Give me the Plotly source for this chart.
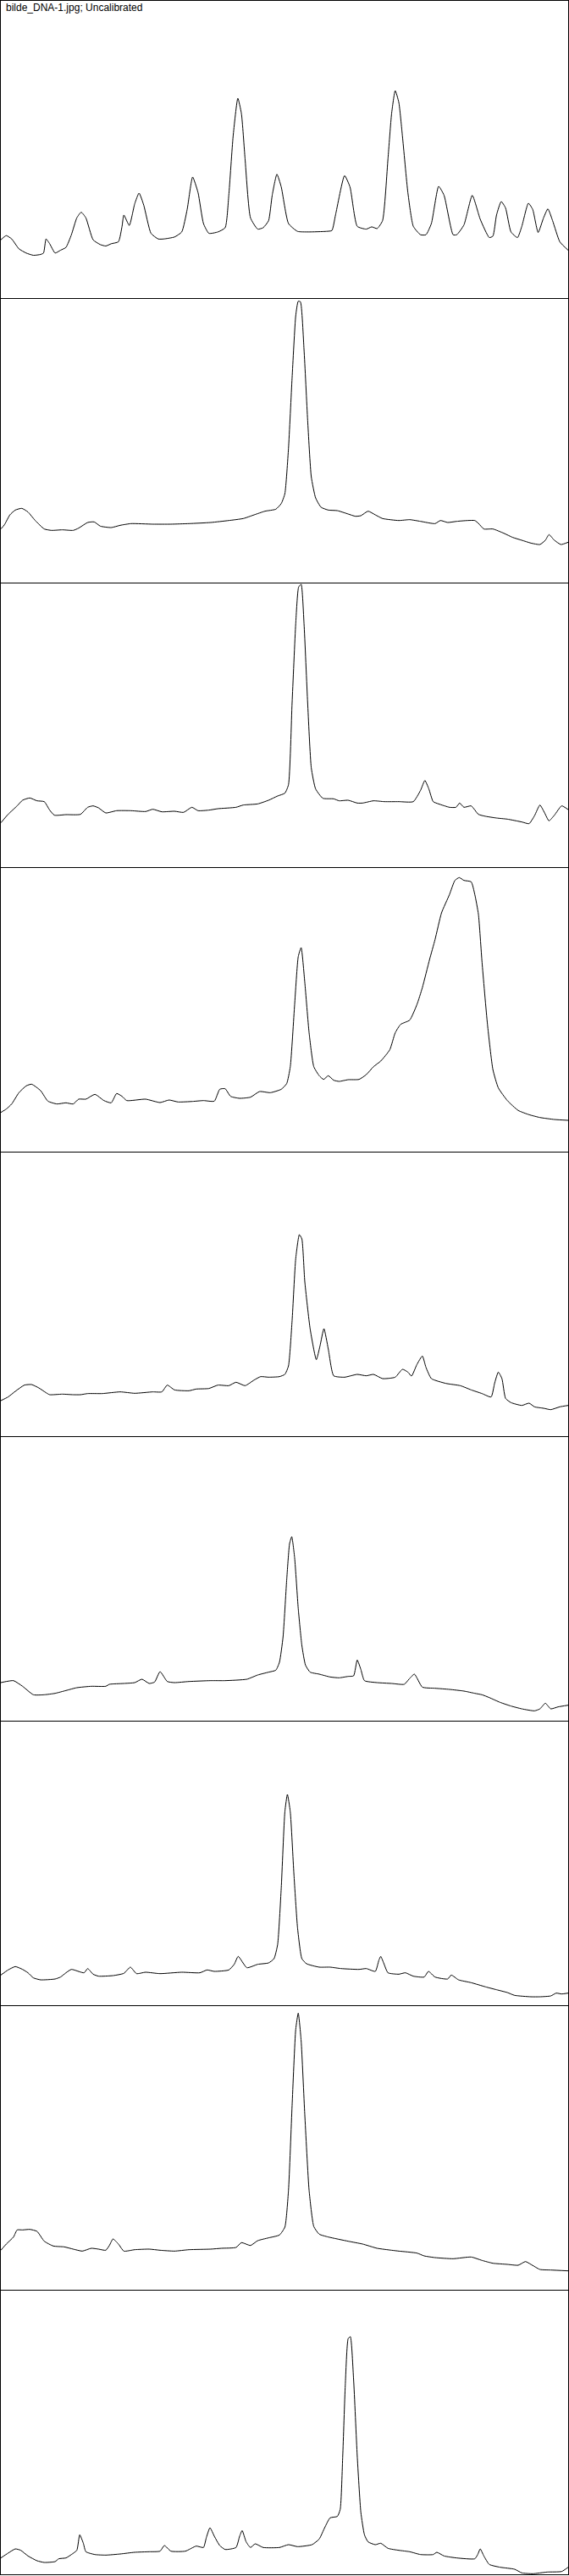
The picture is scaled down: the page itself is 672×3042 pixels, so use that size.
import plotly.graph_objects as go

title_text = "bilde_DNA-1.jpg; Uncalibrated"

lane1_x = [0, 15, 30, 50, 70, 90, 110, 118, 125, 135, 150, 165, 180, 195, 210, 222, 235, 255, 275, 290, 305, 325, 335, 340, 355, 370, 382, 395, 415, 435, 450, 480, 500, 515, 530, 545, 560, 575, 600, 620, 630, 642, 655, 665, 675, 690, 710, 725, 740, 750, 763, 775, 795, 820, 850, 900, 915, 925, 950, 965, 985, 1010, 1025, 1040, 1055, 1070, 1080, 1090, 1100, 1110, 1125, 1140, 1160, 1175, 1190, 1210, 1225, 1250, 1260, 1280, 1303, 1325, 1350, 1360, 1370, 1383, 1395, 1410, 1428, 1440, 1458, 1470, 1485, 1500, 1512, 1525, 1545, 1568]
lane1_y = [207, 222, 210, 175, 160, 152, 155, 160, 210, 193, 160, 170, 180, 225, 285, 305, 285, 207, 190, 185, 193, 200, 255, 295, 258, 335, 373, 330, 230, 210, 210, 217, 235, 315, 430, 375, 265, 230, 235, 250, 365, 575, 710, 655, 495, 285, 245, 250, 275, 365, 440, 395, 265, 237, 235, 237, 240, 295, 435, 395, 255, 245, 253, 247, 275, 495, 655, 737, 695, 575, 375, 255, 225, 225, 265, 397, 365, 225, 225, 260, 365, 280, 215, 220, 295, 343, 320, 235, 215, 255, 337, 315, 233, 285, 317, 275, 200, 170]

lane2_x = [0, 10, 25, 40, 58, 75, 95, 120, 140, 170, 200, 215, 240, 258, 275, 305, 330, 360, 420, 470, 520, 580, 630, 670, 700, 730, 760, 775, 785, 795, 805, 815, 822, 828, 838, 848, 858, 870, 885, 905, 930, 960, 980, 995, 1015, 1035, 1055, 1100, 1130, 1160, 1200, 1215, 1235, 1260, 1290, 1310, 1320, 1335, 1360, 1390, 1415, 1440, 1465, 1490, 1505, 1515, 1530, 1548, 1568]
lane2_y = [190, 205, 240, 257, 263, 250, 220, 190, 185, 187, 185, 193, 213, 215, 200, 195, 203, 209, 207, 207, 209, 213, 220, 227, 240, 253, 260, 280, 315, 475, 725, 945, 997, 995, 825, 575, 375, 300, 267, 257, 255, 243, 235, 237, 253, 240, 227, 220, 223, 217, 209, 220, 213, 217, 220, 220, 210, 190, 190, 175, 160, 150, 140, 135, 150, 170, 150, 135, 143]

lane3_x = [0, 20, 45, 60, 80, 100, 120, 135, 148, 180, 220, 240, 255, 270, 290, 320, 360, 400, 420, 445, 480, 505, 528, 545, 575, 600, 650, 670, 710, 740, 765, 785, 795, 805, 815, 823, 830, 838, 848, 858, 870, 890, 920, 935, 960, 985, 1000, 1030, 1060, 1100, 1140, 1160, 1172, 1183, 1195, 1210, 1240, 1258, 1268, 1280, 1300, 1320, 1340, 1370, 1400, 1440, 1460, 1475, 1490, 1503, 1515, 1530, 1550, 1568]
lane3_y = [157, 187, 217, 237, 245, 235, 232, 202, 184, 186, 187, 212, 217, 210, 192, 200, 200, 197, 205, 196, 198, 194, 212, 200, 202, 207, 212, 220, 224, 237, 252, 262, 292, 582, 862, 992, 1002, 862, 582, 352, 277, 244, 242, 235, 237, 227, 227, 235, 232, 232, 232, 272, 307, 277, 232, 224, 212, 212, 227, 212, 217, 187, 180, 174, 170, 160, 154, 182, 220, 192, 164, 184, 217, 204]

lane4_x = [0, 15, 30, 50, 70, 85, 110, 130, 155, 180, 200, 215, 235, 260, 285, 305, 320, 335, 348, 400, 440, 465, 490, 530, 560, 590, 605, 620, 635, 660, 690, 715, 745, 775, 790, 800, 812, 822, 830, 840, 852, 865, 880, 892, 905, 920, 935, 960, 990, 1010, 1030, 1050, 1075, 1090, 1105, 1130, 1150, 1165, 1185, 1200, 1218, 1240, 1255, 1267, 1280, 1300, 1310, 1320, 1330, 1345, 1360, 1375, 1400, 1430, 1460, 1490, 1530, 1568]
lane4_y = [139, 151, 169, 209, 233, 239, 216, 179, 169, 173, 169, 186, 186, 203, 181, 173, 206, 196, 181, 186, 174, 183, 176, 178, 181, 179, 221, 223, 196, 189, 193, 213, 209, 221, 241, 301, 521, 691, 723, 601, 421, 301, 269, 256, 269, 253, 249, 255, 256, 273, 301, 321, 361, 421, 451, 466, 521, 581, 681, 751, 846, 911, 961, 971, 961, 956, 911, 841, 671, 451, 291, 226, 181, 146, 131, 121, 114, 111]

lane5_x = [0, 20, 40, 65, 85, 105, 125, 135, 170, 200, 220, 240, 280, 330, 370, 420, 445, 460, 480, 520, 540, 575, 600, 630, 650, 675, 700, 718, 740, 770, 785, 795, 805, 815, 825, 832, 840, 855, 872, 882, 893, 905, 920, 950, 985, 1010, 1030, 1055, 1090, 1110, 1125, 1135, 1150, 1165, 1175, 1190, 1230, 1270, 1300, 1330, 1355, 1365, 1375, 1385, 1395, 1410, 1440, 1460, 1475, 1500, 1520, 1545, 1568]
lane5_y = [126, 139, 159, 181, 183, 171, 154, 147, 149, 147, 147, 151, 151, 157, 152, 157, 157, 181, 164, 161, 167, 169, 181, 179, 191, 179, 199, 211, 209, 211, 219, 249, 409, 629, 714, 699, 549, 379, 271, 319, 381, 309, 214, 209, 219, 214, 219, 204, 209, 237, 227, 213, 254, 284, 244, 204, 187, 179, 164, 151, 139, 189, 227, 204, 134, 119, 109, 117, 104, 99, 94, 104, 109]

lane6_x = [0, 15, 35, 60, 90, 120, 150, 180, 210, 250, 290, 300, 340, 370, 390, 410, 425, 440, 460, 480, 520, 580, 620, 680, 710, 740, 760, 770, 780, 790, 798, 804, 812, 822, 832, 842, 855, 880, 910, 935, 960, 975, 985, 995, 1005, 1040, 1080, 1115, 1128, 1143, 1165, 1200, 1240, 1280, 1310, 1330, 1350, 1380, 1410, 1440, 1475, 1490, 1505, 1520, 1540, 1568]
lane6_y = [135, 139, 142, 122, 92, 92, 97, 107, 117, 122, 122, 129, 132, 135, 147, 132, 137, 174, 139, 135, 139, 142, 142, 147, 162, 172, 179, 207, 297, 497, 627, 652, 577, 397, 267, 197, 172, 165, 155, 152, 157, 159, 215, 182, 142, 135, 132, 129, 147, 165, 119, 115, 111, 105, 97, 92, 82, 65, 52, 42, 35, 42, 62, 42, 49, 55]

lane7_x = [0, 20, 40, 60, 75, 90, 110, 150, 165, 180, 195, 230, 240, 255, 270, 310, 340, 358, 375, 400, 440, 500, 550, 570, 590, 630, 645, 656, 680, 710, 740, 755, 765, 775, 785, 792, 800, 810, 820, 832, 845, 880, 910, 940, 990, 1010, 1035, 1045, 1050, 1058, 1070, 1100, 1118, 1140, 1170, 1182, 1200, 1235, 1245, 1265, 1300, 1340, 1370, 1400, 1420, 1465, 1490, 1520, 1535, 1550, 1568]
lane7_y = [107, 125, 137, 127, 115, 97, 90, 93, 100, 115, 127, 115, 130, 110, 103, 105, 113, 135, 112, 117, 112, 117, 115, 125, 120, 125, 145, 173, 133, 145, 150, 165, 215, 415, 685, 747, 685, 465, 275, 165, 147, 135, 135, 130, 127, 130, 120, 160, 173, 150, 115, 110, 115, 103, 100, 120, 100, 93, 107, 90, 80, 65, 55, 45, 35, 30, 30, 33, 43, 40, 43]

lane8_x = [0, 15, 35, 45, 60, 80, 100, 120, 145, 175, 200, 225, 250, 270, 290, 300, 310, 325, 340, 370, 410, 440, 480, 520, 580, 610, 650, 665, 690, 710, 740, 770, 785, 795, 805, 815, 822, 830, 840, 852, 865, 880, 905, 960, 1000, 1040, 1080, 1100, 1150, 1170, 1200, 1250, 1300, 1330, 1360, 1400, 1430, 1450, 1465, 1490, 1520, 1568]
lane8_y = [140, 162, 187, 212, 212, 214, 207, 172, 155, 152, 144, 137, 147, 144, 140, 157, 180, 162, 137, 142, 144, 140, 137, 142, 144, 147, 150, 167, 157, 174, 184, 194, 222, 352, 652, 922, 980, 882, 622, 352, 224, 197, 187, 172, 162, 147, 140, 137, 130, 120, 114, 110, 116, 104, 94, 90, 87, 100, 90, 72, 70, 67]

lane9_x = [0, 20, 40, 55, 75, 100, 120, 150, 160, 180, 195, 210, 218, 228, 235, 260, 290, 330, 370, 410, 440, 452, 470, 510, 540, 560, 568, 578, 590, 605, 620, 650, 660, 667, 678, 690, 703, 725, 770, 795, 820, 860, 880, 895, 910, 930, 938, 945, 952, 960, 966, 975, 985, 995, 1005, 1015, 1035, 1050, 1070, 1100, 1130, 1160, 1195, 1205, 1225, 1260, 1310, 1318, 1325, 1335, 1350, 1380, 1420, 1440, 1470, 1510, 1550, 1568]
lane9_y = [58, 75, 90, 85, 65, 48, 42, 45, 55, 58, 70, 85, 140, 110, 80, 70, 68, 72, 78, 80, 82, 102, 82, 82, 100, 95, 130, 165, 135, 102, 88, 95, 135, 155, 115, 95, 108, 95, 95, 105, 98, 105, 125, 165, 200, 205, 230, 420, 670, 835, 842, 690, 420, 220, 140, 115, 105, 110, 92, 85, 80, 70, 70, 78, 65, 58, 55, 70, 90, 65, 35, 25, 18, 5, 2, 8, 10, 25]

lanes = [
    (lane1_x, lane1_y), (lane2_x, lane2_y), (lane3_x, lane3_y),
    (lane4_x, lane4_y), (lane5_x, lane5_y), (lane6_x, lane6_y),
    (lane7_x, lane7_y), (lane8_x, lane8_y), (lane9_x, lane9_y),
]

W, H = 672, 3042
ml, mr, mt, mb = 1, 1, 1, 2
plot_h = H - mt - mb
bounds = [0, 352, 688, 1024, 1360, 1696, 2032, 2368, 2704, 3040]
x_max = 1568

fig = go.Figure()
layout = dict(
    width=W, height=H,
    margin=dict(l=ml, r=mr, t=mt, b=mb, pad=0),
    paper_bgcolor="white", plot_bgcolor="white",
    showlegend=False, hovermode=False,
)
for i, (xs, ys) in enumerate(lanes):
    n = "" if i == 0 else str(i + 1)
    top_px, bot_px = bounds[i], bounds[i + 1]
    d0 = (H - mb - bot_px) / plot_h
    d1 = min(1.0, (H - mb - top_px) / plot_h)
    y_top = (bot_px - top_px) * 3
    fig.add_trace(go.Scatter(
        x=xs, y=ys, mode="lines",
        line=dict(color="black", width=1, shape="spline", smoothing=0.5),
        xaxis="x" + n, yaxis="y" + n,
    ))
    layout["xaxis" + n] = dict(
        domain=[0, 1], range=[0, x_max], anchor="y" + n,
        showgrid=False, zeroline=False, showticklabels=False, ticks="",
        showline=True, linecolor="black", linewidth=1,
        mirror=(i == 0),
    )
    layout["yaxis" + n] = dict(
        domain=[d0, d1], range=[0, y_top], anchor="x" + n,
        showgrid=False, zeroline=False, showticklabels=False, ticks="",
        showline=True, linecolor="black", linewidth=1, mirror=True,
    )

fig.update_layout(**layout)
fig.add_annotation(
    text=title_text, xref="paper", yref="paper", x=0, y=1,
    xanchor="left", yanchor="top", xshift=4, yshift=1, showarrow=False,
    font=dict(family="Liberation Sans, Arial", size=12, color="black"),
)
fig.write_html(
    "out.html",
    config={"responsive": False, "displayModeBar": False},
    post_script="document.body.style.margin='0';document.body.style.padding='0';",
)
